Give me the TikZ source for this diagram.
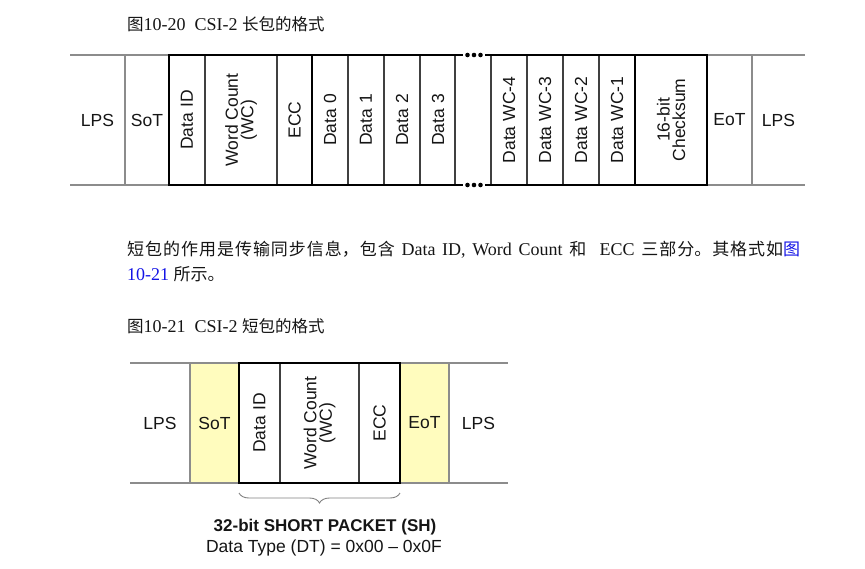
\documentclass[tikz,border=0pt]{standalone}
\usepackage{fontspec}
\setmainfont{Liberation Serif}
\setsansfont{Liberation Sans}
\newfontfamily\cjk{Noto Sans CJK SC}
\usetikzlibrary{decorations.pathreplacing}
\definecolor{linegray}{HTML}{8C8C8C}
\definecolor{divgray}{HTML}{404040}
\definecolor{txt}{HTML}{151515}
\definecolor{soty}{RGB}{255,252,190}
\definecolor{linkblue}{RGB}{20,20,230}
\tikzset{
  outer/.style={draw=linegray, line width=1.2pt},
  div/.style={draw=divgray, line width=1.1pt},
  boxline/.style={draw=black, line width=2.6pt, line join=miter},
  lbl/.style={font=\sffamily\fontsize{17.5}{15.5}\selectfont, text=txt, inner sep=0pt, align=center},
  vlbl/.style={lbl, rotate=90},
  pdot/.style={fill=black, circle, inner sep=0pt, minimum size=4.6pt},
  body/.style={font=\fontsize{18}{20}\selectfont, text=txt, inner sep=0pt, anchor=west},
}
\newcommand\cjkt[1]{{\cjk\fontsize{16.5}{20}\selectfont #1}}
\newcommand\cjkp[1]{{\cjk\fontsize{17}{20}\selectfont #1}}
\begin{document}
\begin{tikzpicture}[x=1pt,y=-1pt]
\useasboundingbox (0,0) rectangle (865,568);

% ---------- title 1
\node[body] (t1) at (127,24) {\cjkt{图}10-20\ \ CSI-2 \cjkt{长包的格式}};

% ---------- long packet
\draw[outer] (70,55) -- (169,55) (70,185) -- (169,185);
\draw[outer] (707,55) -- (805,55) (707,185) -- (805,185);
\draw[outer] (125,55) -- (125,185) (752,55) -- (752,185);
\foreach \x in {205,277,348,384,420,455,491,527,563,599}
  \draw[div] (\x,55) -- (\x,185);
\draw[boxline] (463,55) -- (169,55) -- (169,185) -- (463,185);
\draw[boxline] (485,55) -- (707,55) -- (707,185) -- (485,185);
\draw[boxline] (312,55) -- (312,185) (635,55) -- (635,185);
\foreach \x/\n in {467.5/a,474/b,480.5/c} {
  \node[pdot] (dt\n) at (\x,55) {};
  \node[pdot] (db\n) at (\x,185) {};
}

\node[lbl] (lps1) at (97.5,120) {LPS};
\node[lbl] (sot1) at (147,120) {SoT};
\node[vlbl] (did1) at (187,120) {Data ID};
\node[vlbl] (wc1) at (241,120) {Word Count\\(WC)};
\node[vlbl] (ecc1) at (294.5,120) {ECC};
\node[vlbl] (d0) at (330,120) {Data 0};
\node[vlbl] (d1) at (366,120) {Data 1};
\node[vlbl] (d2) at (402,120) {Data 2};
\node[vlbl] (d3) at (438,120) {Data 3};
\node[vlbl] (w4) at (509,120) {Data WC-4};
\node[vlbl] (w3) at (545,120) {Data WC-3};
\node[vlbl] (w2) at (581,120) {Data WC-2};
\node[vlbl] (w1) at (617,120) {Data WC-1};
\node[vlbl] (cks) at (671,120) {16-bit\\Checksum};
\node[lbl] (eot1) at (729.5,120) {EoT};
\node[lbl] (lps2) at (778.5,120) {LPS};

% ---------- paragraph
\node[body, text width=673pt, align=justify] (p1) at (127,250)
  {\XeTeXlinebreaklocale "zh"\XeTeXlinebreakskip=0pt plus 1pt\parfillskip=0pt\noindent
   \cjkp{短包的作用是传输同步信息，包含} Data ID, Word Count \cjkp{和}\ \ ECC \cjkp{三部分。其格式如\textcolor{linkblue}{图}}\par};
\node[body] (p2) at (127,274) {\textcolor{linkblue}{10-21} \cjkp{所示。}};

% ---------- title 2
\node[body] (t2) at (127,326) {\cjkt{图}10-21\ \ CSI-2 \cjkt{短包的格式}};

% ---------- short packet
\draw[outer] (130,363) -- (508,363) (130,483) -- (508,483);
\draw[outer, fill=soty] (190,363) rectangle (239,483);
\draw[outer, fill=soty] (400,363) rectangle (449,483);
\draw[div] (280,363) -- (280,483) (359,363) -- (359,483);
\draw[boxline] (239,363) rectangle (400,483);

\node[lbl] (lps3) at (160,423) {LPS};
\node[lbl] (sot2) at (214.5,423) {SoT};
\node[vlbl] (did2) at (259.5,423) {Data ID};
\node[vlbl] (wc2) at (319.5,423) {Word Count\\(WC)};
\node[vlbl] (ecc2) at (379.5,423) {ECC};
\node[lbl] (eot2) at (424.5,423) {EoT};
\node[lbl] (lps4) at (478.5,423) {LPS};

\coordinate (bl) at (239,493);
\coordinate (br) at (400,493);
\draw[draw=gray, line width=0.9pt, decorate, decoration={brace, mirror, amplitude=10pt}] (bl) -- (br);

\node[lbl, font=\sffamily\bfseries\fontsize{17}{20}\selectfont] (sh) at (325,527) {32-bit SHORT PACKET (SH)};
\node[lbl] (dtype) at (324,548) {Data Type (DT) = 0x00 – 0x0F};
\end{tikzpicture}
\end{document}
